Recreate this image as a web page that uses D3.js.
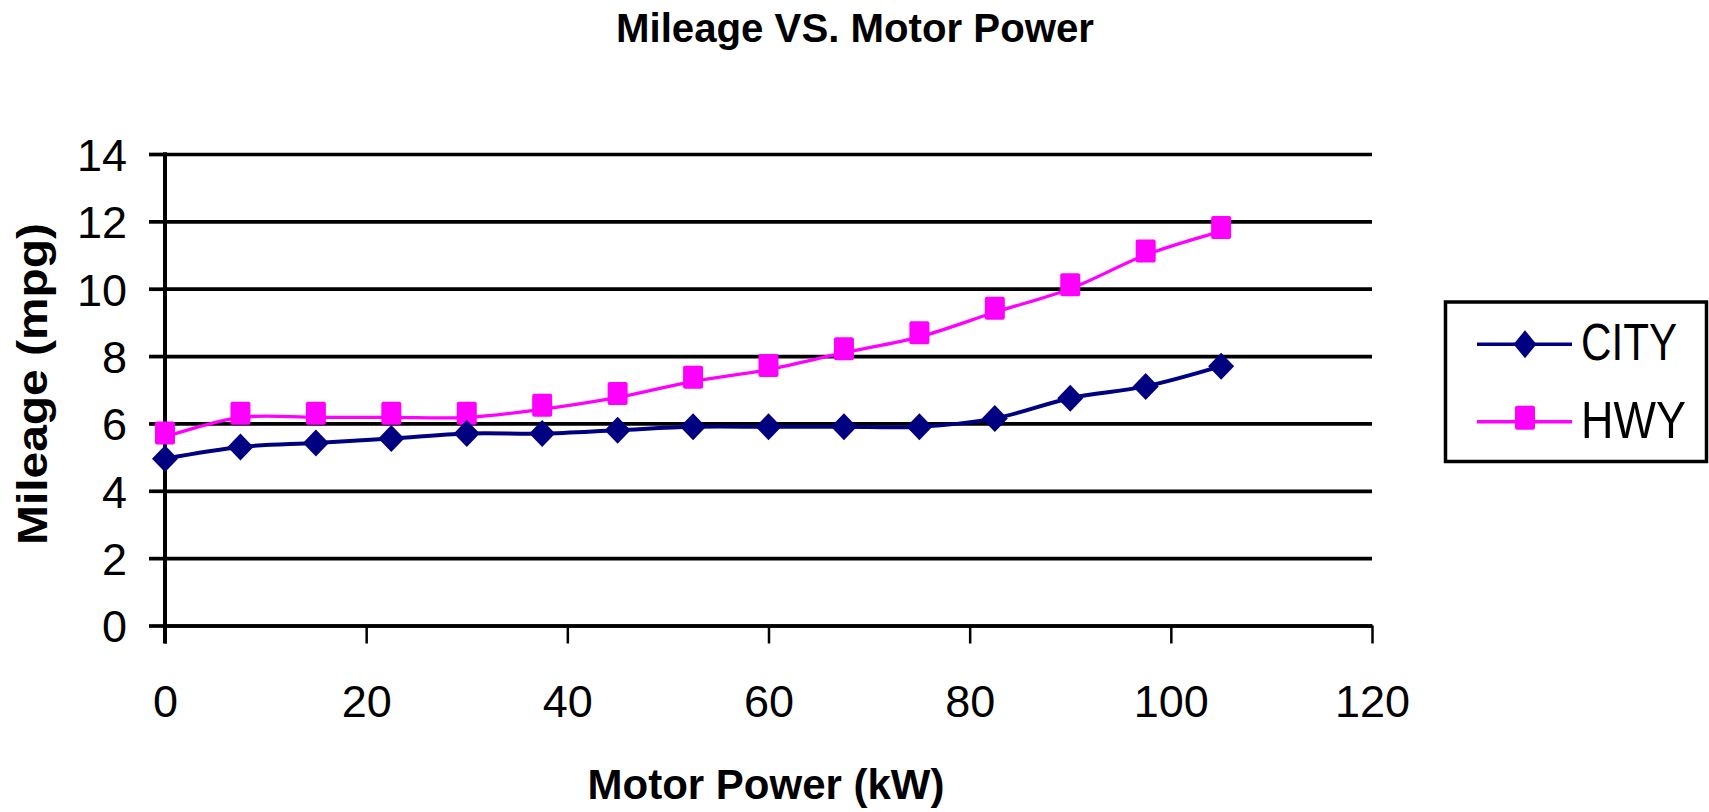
<!DOCTYPE html>
<html>
<head>
<meta charset="utf-8">
<script src="https://cdn.jsdelivr.net/npm/d3@7"></script>
<style>
  html, body { margin: 0; padding: 0; background: #fff; }
  svg { display: block; }
  text { font-family: "Liberation Sans", Arial, sans-serif; fill: #000; }
</style>
</head>
<body>
<svg id="chart" width="1709" height="812"></svg>
<script>
// Motor power (kW) for each test point
const power = [0, 7.5, 15, 22.5, 30, 37.5, 45, 52.5, 60, 67.5, 75, 82.5, 90, 97.5, 105];
// City mileage (mpg)
const city = [4.95, 5.3, 5.42, 5.55, 5.7, 5.7, 5.8, 5.9, 5.9, 5.9, 5.9, 6.15, 6.75, 7.1, 7.7];
// Highway mileage (mpg)
const hwy = [5.6, 6.18, 6.18, 6.18, 6.18, 6.42, 6.77, 7.25, 7.6, 8.1, 8.57, 9.3, 10.0, 11.0, 11.7];

const seriesNames = ["CITY", "HWY"];
const xTicks = [0, 20, 40, 60, 80, 100, 120];
const yTicks = [0, 2, 4, 6, 8, 10, 12, 14];

const chartTitle = "Mileage VS. Motor Power";
const xTitle = "Motor Power (kW)";
const yTitle = "Mileage (mpg)";

const svg = d3.select("#chart");
const plotLeft = 165, plotRight = 1372, plotTop = 154, plotBottom = 625.5;

const x = d3.scaleLinear().domain([0, 120]).range([plotLeft, plotRight]);
const y = d3.scaleLinear().domain([0, 14]).range([plotBottom, plotTop]);

// Title
svg.append("text")
  .attr("x", 855).attr("y", 42)
  .attr("text-anchor", "middle")
  .attr("textLength", 478).attr("lengthAdjust", "spacingAndGlyphs")
  .style("font-size", "41px").style("font-weight", "bold")
  .text(chartTitle);

// Horizontal gridlines across the plot
const grid = svg.append("g").attr("transform", `translate(${plotLeft},0)`)
  .call(d3.axisLeft(y).tickValues(yTicks).tickSize(-(plotRight - plotLeft)).tickFormat(""));
grid.select(".domain").remove();
grid.selectAll(".tick line").attr("stroke", "#000").attr("stroke-width", 3.7);

// Y axis with outward ticks and labels
const yAxis = svg.append("g").attr("transform", `translate(${plotLeft},0)`)
  .call(d3.axisLeft(y).tickValues(yTicks).tickSize(16).tickSizeOuter(0).tickPadding(22));
yAxis.select(".domain").remove();
yAxis.selectAll(".tick line").attr("stroke", "#000").attr("stroke-width", 3.7);
yAxis.selectAll(".tick text")
  .attr("dy", null).attr("y", 16.3)
  .style("font-size", "45px").style("font-family", "Liberation Sans, Arial, sans-serif");
svg.append("line")
  .attr("x1", plotLeft).attr("x2", plotLeft)
  .attr("y1", plotTop - 1.8).attr("y2", plotBottom + 18)
  .attr("stroke", "#000").attr("stroke-width", 4);

// X axis
const xAxis = svg.append("g").attr("transform", `translate(0,${plotBottom})`)
  .call(d3.axisBottom(x).tickValues(xTicks).tickSize(18).tickSizeOuter(0));
xAxis.select(".domain").attr("stroke", "#000").attr("stroke-width", 3.7);
xAxis.selectAll(".tick line").attr("stroke", "#000").attr("stroke-width", 2.5);
xAxis.selectAll(".tick text")
  .attr("dy", null).attr("y", 91.5)
  .style("font-size", "45px").style("font-family", "Liberation Sans, Arial, sans-serif");

// Axis titles
svg.append("text")
  .attr("x", 766).attr("y", 799)
  .attr("text-anchor", "middle")
  .style("font-size", "42px").style("font-weight", "bold")
  .text(xTitle);

svg.append("text")
  .attr("transform", "translate(47,384) rotate(-90)")
  .attr("text-anchor", "middle")
  .attr("textLength", 322).attr("lengthAdjust", "spacingAndGlyphs")
  .style("font-size", "42px").style("font-weight", "bold")
  .text(yTitle);

// Series
const colors = { CITY: "#000080", HWY: "#FF00FF" };
const squareLift = 4;
const diamondPath = "M0,-13.5L13,0L0,13.5L-13,0Z";

const lineGen = d3.line()
  .x(d => x(d[0])).y(d => y(d[1]))
  .curve(d3.curveCatmullRom.alpha(0.5));

const hwyPts = power.map((p, i) => [p, hwy[i]]);
const cityPts = power.map((p, i) => [p, city[i]]);

svg.append("path").datum(hwyPts)
  .attr("d", lineGen).attr("fill", "none")
  .attr("stroke", colors.HWY).attr("stroke-width", 3.3);
svg.append("path").datum(cityPts)
  .attr("d", lineGen).attr("fill", "none")
  .attr("stroke", colors.CITY).attr("stroke-width", 4);

svg.append("g").selectAll("rect").data(hwyPts).join("rect")
  .attr("x", d => x(d[0]) - 10)
  .attr("y", d => y(d[1]) - 11.5 - squareLift)
  .attr("width", 20).attr("height", 23).attr("rx", 2)
  .attr("fill", colors.HWY);

svg.append("g").selectAll("path").data(cityPts).join("path")
  .attr("d", diamondPath)
  .attr("transform", d => `translate(${x(d[0])},${y(d[1])})`)
  .attr("fill", colors.CITY);

// Legend
const legend = svg.append("g");
legend.append("rect")
  .attr("x", 1445.5).attr("y", 302).attr("width", 261).attr("height", 159.5)
  .attr("fill", "#fff").attr("stroke", "#000").attr("stroke-width", 3.5);

const legendRows = [
  { name: seriesNames[0], y: 344.3, len: 96 },
  { name: seriesNames[1], y: 421.7, len: 105 }
];
legendRows.forEach(r => {
  legend.append("line")
    .attr("x1", 1477).attr("x2", 1572).attr("y1", r.y).attr("y2", r.y)
    .attr("stroke", colors[r.name]).attr("stroke-width", 3.5);
  if (r.name === "CITY") {
    legend.append("path").attr("d", "M0,-14L11.5,0L0,14L-11.5,0Z")
      .attr("transform", `translate(1525,${r.y})`).attr("fill", colors.CITY);
  } else {
    legend.append("rect")
      .attr("x", 1515).attr("y", r.y - 12 - squareLift)
      .attr("width", 20).attr("height", 24).attr("rx", 2)
      .attr("fill", colors.HWY);
  }
  legend.append("text")
    .attr("x", 1581).attr("y", r.y + 16)
    .attr("textLength", r.len).attr("lengthAdjust", "spacingAndGlyphs")
    .style("font-size", "52px")
    .text(r.name);
});
</script>
</body>
</html>
